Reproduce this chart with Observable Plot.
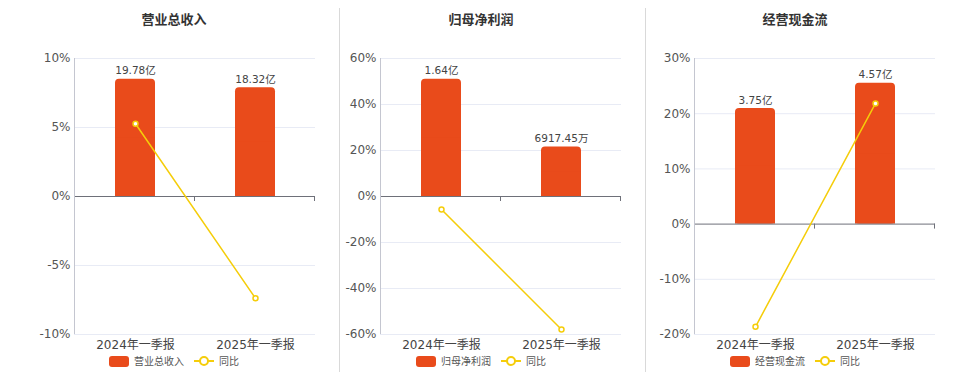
<!DOCTYPE html>
<html>
<head>
<meta charset="utf-8">
<script src="https://cdn.jsdelivr.net/npm/d3@7"></script>
<script src="https://cdn.jsdelivr.net/npm/@observablehq/plot@0.6"></script>
<style>
  html, body { margin: 0; padding: 0; background: #fff; }
  #root { position: relative; width: 960px; height: 372px; overflow: hidden; background: #fff;
          font-family: "DejaVu Sans", "Noto Sans CJK SC", sans-serif; }
  .panel { position: absolute; top: 0; height: 372px; }
  .title { position: absolute; top: 9px; transform: translateX(-50%); white-space: nowrap;
           font-size: 13px; font-weight: bold; color: #333; line-height: 20px;
           font-family: "Noto Sans CJK SC", sans-serif; }
  .svgwrap { position: absolute; top: 40px; left: 0; }
  .legend { position: absolute; top: 354px; transform: translateX(-50%); display: flex; align-items: center;
            white-space: nowrap; font-size: 10px; color: #555; font-family: "Noto Sans CJK SC", sans-serif; line-height: 14px; }
  .sw { width: 20px; height: 11px; border-radius: 3px; margin-right: 5px; }
  .divider { position: absolute; top: 8px; width: 1px; height: 364px; background: #d9d9d9; }
</style>
</head>
<body>
<div id="root"></div>
<script>
// ---- data ----
const categories = ["2024年一季报", "2025年一季报"];

const revenueTitle = "营业总收入";
const revenueValues = [19.78, 18.32];          // 亿
const revenueLabels = ["19.78亿", "18.32亿"];
const revenueYoy = [5.27, -7.38];              // %
const revenueTicks = [-10, -5, 0, 5, 10];

const profitTitle = "归母净利润";
const profitValues = [1.64, 0.691745];         // 亿
const profitLabels = ["1.64亿", "6917.45万"];
const profitYoy = [-5.64, -57.82];
const profitTicks = [-60, -40, -20, 0, 20, 40, 60];

const cashTitle = "经营现金流";
const cashValues = [3.75, 4.57];               // 亿
const cashLabels = ["3.75亿", "4.57亿"];
const cashYoy = [-18.6, 21.87];
const cashTicks = [-20, -10, 0, 10, 20, 30];

const yoyName = "同比";

// ---- style ----
const BAR = "#e94b1b";
const LINE = "#f5cd0a";
const GRID = "#e8ebf5";
const AXIS = "#6e7079";

const root = document.getElementById("root");

function makePanel(cfg) {
  const {title, values, labels, yoy, ticks, left, width, ml, mr, cx} = cfg;
  const panel = document.createElement("div");
  panel.className = "panel";
  panel.style.left = left + "px";
  panel.style.width = width + "px";

  const yMin = ticks[0], yMax = ticks[ticks.length - 1];
  const vmax = d3.max(values);
  const data = categories.map((c, i) => ({
    cat: c,
    bar: values[i] / vmax * 0.85 * yMax,   // bars use a hidden secondary axis aligned at zero
    label: labels[i],
    yoy: yoy[i]
  }));

  const frameMark = (index, scales, values_, dim) => {
    const g = d3.create("svg:g");
    const x0 = dim.marginLeft, x1 = dim.width - dim.marginRight;
    const yTop = scales.y(yMax), yBot = scales.y(yMin), y0 = scales.y(0);
    g.append("line").attr("x1", x0 + 0.5).attr("x2", x0 + 0.5).attr("y1", yTop).attr("y2", yBot)
      .attr("stroke", "#c4c6d0");
    const n = categories.length;
    for (let k = 1; k <= n; k++) {
      const xx = Math.round(x0 + (x1 - x0) * k / n) - 0.5;
      g.append("line").attr("x1", xx).attr("x2", xx).attr("y1", y0).attr("y2", y0 + 5)
        .attr("stroke", AXIS);
    }
    return g.node();
  };

  const svg = Plot.plot({
    width: width,
    height: 316,
    marginTop: 18,
    marginBottom: 22,
    marginLeft: ml,
    marginRight: mr,
    style: {fontFamily: '"DejaVu Sans", "Noto Sans CJK SC", sans-serif', fontSize: "12px", background: "transparent", overflow: "visible"},
    x: {type: "band", domain: categories, paddingInner: 0.668, paddingOuter: 0.334},
    y: {domain: [yMin, yMax]},
    marks: [
      Plot.ruleY(ticks.filter(t => t !== 0), {stroke: GRID}),
      Plot.axisY({ticks: ticks, tickSize: 0, tickPadding: 4, tickFormat: d => d + "%", label: null, color: "#555", fontSize: 12}),
      Plot.axisX({tickSize: 0, tickPadding: 6, label: null, color: "#444", fontSize: 12}),
      Plot.barY(data, {x: "cat", y: "bar", fill: BAR, rx: 4}),
      Plot.barY(data, {x: "cat", y: d => d.bar / 2, fill: BAR}),
      Plot.ruleY([0], {stroke: AXIS}),
      frameMark,
      Plot.text(data, {x: "cat", y: "bar", text: "label", dy: -5, lineAnchor: "bottom", fontSize: 10.5, fill: "#444"}),
      Plot.line(data, {x: "cat", y: "yoy", stroke: LINE, strokeWidth: 1.5}),
      Plot.dot(data, {x: "cat", y: "yoy", r: 2.5, stroke: LINE, strokeWidth: 1.5, fill: "#fff"})
    ]
  });
  const wrap = document.createElement("div");
  wrap.className = "svgwrap";
  wrap.appendChild(svg);
  panel.appendChild(wrap);

  const t = document.createElement("div");
  t.className = "title";
  t.style.left = cx + "px";
  t.textContent = title;
  panel.appendChild(t);

  const lg = document.createElement("div");
  lg.className = "legend";
  lg.style.left = cx + "px";
  lg.innerHTML =
    `<div class="sw" style="background:${BAR}"></div><span>${title}</span>` +
    `<svg width="20" height="12" style="margin:0 5px 0 10px"><line x1="0" x2="20" y1="6" y2="6" stroke="${LINE}" stroke-width="2"/>` +
    `<circle cx="10" cy="6" r="4" fill="#fff" stroke="${LINE}" stroke-width="2"/></svg><span>${yoyName}</span>`;
  panel.appendChild(lg);

  root.appendChild(panel);
}

makePanel({title: revenueTitle, values: revenueValues, labels: revenueLabels, yoy: revenueYoy, ticks: revenueTicks,
           left: 0, width: 339, ml: 74, mr: 24, cx: 174});
makePanel({title: profitTitle, values: profitValues, labels: profitLabels, yoy: profitYoy, ticks: profitTicks,
           left: 340, width: 305, ml: 40, mr: 24, cx: 141});
makePanel({title: cashTitle, values: cashValues, labels: cashLabels, yoy: cashYoy, ticks: cashTicks,
           left: 646, width: 314, ml: 48, mr: 25, cx: 149});

for (const x of [339, 645]) {
  const d = document.createElement("div");
  d.className = "divider";
  d.style.left = x + "px";
  root.appendChild(d);
}
</script>
</body>
</html>
